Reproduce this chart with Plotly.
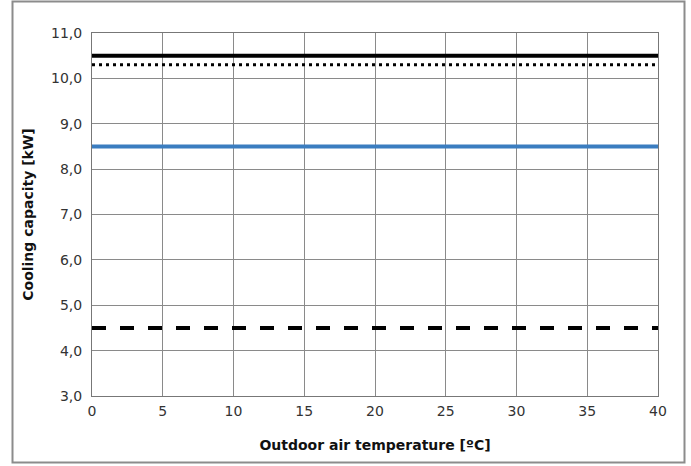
import plotly.graph_objects as go

temps = [0, 40]
series_names = ["Max", "Max dotted", "Nominal", "Min"]
series_values = [10.5, 10.3, 8.5, 4.5]
y_ticks = [3, 4, 5, 6, 7, 8, 9, 10, 11]
x_ticks = [0, 5, 10, 15, 20, 25, 30, 35, 40]

styles = [
    dict(color="#000000", width=4, dash="solid"),
    dict(color="#000000", width=3, dash="3px,4px"),
    dict(color="#3b7dc0", width=4, dash="solid"),
    dict(color="#000000", width=4, dash="14px,14px"),
]

fig = go.Figure()
for name, val, st in zip(series_names, series_values, styles):
    fig.add_trace(go.Scatter(x=temps, y=[val] * len(temps), mode="lines",
                             name=name, line=st, showlegend=False))

font_family = "'DejaVu Sans', sans-serif"

L, R, T, B = 92, 33, 33, 70
W, H = 691, 466
pw, ph = W - L - R, H - T - B

fig.update_layout(
    width=W, height=H,
    margin=dict(l=L, r=R, t=T, b=B),
    paper_bgcolor="white", plot_bgcolor="white",
    separators=", ",
    font=dict(family=font_family, size=14, color="#333"),
    xaxis=dict(range=[0, 40], tickvals=x_ticks, showgrid=True,
               gridcolor="#8a8a8a", gridwidth=1, showline=True,
               linecolor="#777", linewidth=1, mirror=True, zeroline=False,
               ticks="", tickfont=dict(size=14, color="#333"),
               ticklabelstandoff=2,
               title=dict(text="<b>Outdoor air temperature [ºC]</b>",
                          font=dict(size=14, color="#111"), standoff=22)),
    yaxis=dict(range=[3, 11], tickvals=y_ticks, tickformat=".1f",
               showgrid=True, gridcolor="#8a8a8a", gridwidth=1,
               showline=True, linecolor="#777", linewidth=1, mirror=True,
               zeroline=False, ticks="", tickfont=dict(size=14, color="#333"),
               ticklabelstandoff=6,
               title=dict(text="<b>Cooling capacity [kW]</b>",
                          font=dict(size=14, color="#111"), standoff=14)),
)

fig.add_shape(type="rect", xref="paper", yref="paper",
              x0=(12.5 - L) / pw, x1=(684.5 - L) / pw,
              y0=(H - B - 462.5) / ph, y1=(H - B - 1.5) / ph,
              line=dict(color="#8c8c8c", width=2), fillcolor="rgba(0,0,0,0)",
              layer="below")

fig.write_html("out.html", config={"displayModeBar": False},
               post_script="document.body.style.margin='0';document.body.style.overflow='hidden';")
